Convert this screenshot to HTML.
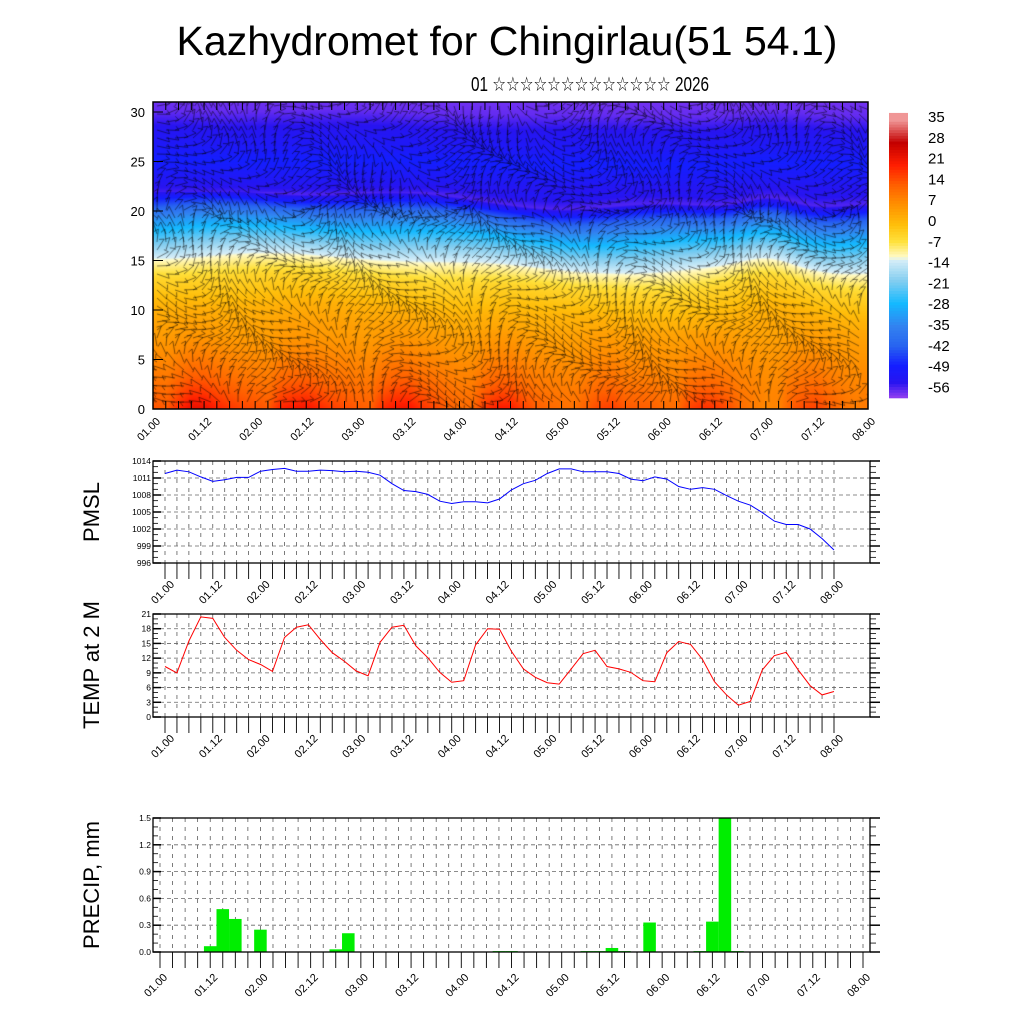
<!DOCTYPE html>
<html><head><meta charset="utf-8"><style>
html,body{margin:0;padding:0;background:#fff;}
#wrap{position:relative;width:1024px;height:1024px;overflow:hidden;}
svg{position:absolute;left:0;top:0;}
canvas{position:absolute;left:153px;top:102px;}
text{font-family:"Liberation Sans","DejaVu Sans",sans-serif;}
</style></head><body>
<div id="wrap">
<canvas id="field" width="715" height="307"></canvas>
<svg id="svg" width="1024" height="1024" xmlns="http://www.w3.org/2000/svg">
<text x="507" y="55" font-size="41" text-anchor="middle">Kazhydromet for Chingirlau(51 54.1)</text>
<text x="471" y="91" font-size="20" textLength="238" lengthAdjust="spacingAndGlyphs">01 ☆☆☆☆☆☆☆☆☆☆☆☆☆ 2026</text>
<text transform="translate(99,512) rotate(-90)" font-size="22" text-anchor="middle">PMSL</text>
<text transform="translate(99,665) rotate(-90)" font-size="22" text-anchor="middle">TEMP at 2 M</text>
<text transform="translate(99,885) rotate(-90)" font-size="22" text-anchor="middle">PRECIP, mm</text>
</svg>
</div>
<script>
const timeLabels=['01.00','01.12','02.00','02.12','03.00','03.12','04.00','04.12','05.00','05.12','06.00','06.12','07.00','07.12','08.00'];
const pmsl=[1011.8,1012.4,1012.1,1011.2,1010.4,1010.7,1011.1,1011.1,1012.2,1012.5,1012.7,1012.2,1012.2,1012.4,1012.3,1012.1,1012.2,1012.0,1011.5,1010.0,1008.8,1008.6,1008.1,1006.9,1006.5,1006.8,1006.8,1006.6,1007.3,1008.9,1010.0,1010.6,1011.8,1012.6,1012.6,1012.1,1012.1,1012.1,1011.8,1010.8,1010.5,1011.2,1010.8,1009.5,1009.0,1009.3,1009.0,1007.9,1006.9,1006.2,1004.9,1003.4,1002.8,1002.8,1002.0,1000.3,998.3];
const temp2m=[10.3,9.0,15.5,20.4,20.1,16.2,13.6,11.7,10.7,9.3,16.2,18.3,18.8,15.8,13.1,11.4,9.4,8.4,15.2,18.3,18.7,14.5,12.1,9.1,7.1,7.4,14.7,18.0,17.9,13.4,9.8,8.1,7.0,6.7,9.8,12.9,13.6,10.3,9.8,9.1,7.4,7.2,13.1,15.4,14.8,11.7,7.2,4.5,2.4,3.2,9.6,12.5,13.2,9.6,6.4,4.5,5.2];
const precip=[0,0,0,0,0.065,0.48,0.37,0,0.25,0,0,0,0,0,0.03,0.21,0,0,0,0,0,0,0,0,0,0,0,0.01,0.01,0,0,0,0,0,0.01,0.01,0.045,0.01,0,0.33,0,0,0,0.01,0.34,1.5,0.01,0,0,0,0,0,0,0,0,0,0];
const pmslTicks=[996,999,1002,1005,1008,1011,1014];
const tempTicks=[0,3,6,9,12,15,18,21];
const precipTicks=[0,0.3,0.6,0.9,1.2,1.5];
const heightTicks=[0,5,10,15,20,25,30];
const cbarLabels=[35,28,21,14,7,0,-7,-14,-21,-28,-35,-42,-49,-56];

const NS='http://www.w3.org/2000/svg';
const svgRoot=document.getElementById('svg');
function mk(tag,attrs,parent){const e=document.createElementNS(NS,tag);for(const k in attrs)e.setAttribute(k,attrs[k]);(parent||svgRoot).appendChild(e);return e;}

const cstops=[[-63,[140,60,240]],[-58,[40,20,240]],[-52,[20,30,255]],[-45,[40,100,240]],[-38,[50,130,240]],[-30,[20,185,255]],[-22,[130,205,240]],[-14.5,[215,238,248]],[-13.5,[255,250,200]],[-8,[255,225,60]],[-2,[255,190,10]],[5,[255,145,0]],[12,[255,95,0]],[19,[255,30,0]],[27,[195,0,0]],[35,[240,150,150]]];
function cmap(t){if(t<=cstops[0][0])return cstops[0][1];for(let i=1;i<cstops.length;i++){if(t<=cstops[i][0]){const a=cstops[i-1],b=cstops[i];const f=(t-a[0])/(b[0]-a[0]);return a[1].map((v,j)=>Math.round(v+(b[1][j]-v)*f));}}return cstops[cstops.length-1][1];}
const zst=[[0,14],[3,9],[6,5],[10,0],[13,-6],[14.6,-12],[15.2,-15],[17,-25],[19,-37],[20.5,-50],[21.5,-60],[23,-56],[25,-52],[26.5,-55],[28,-57],[30,-61],[32,-62]];
function baseT(z){for(let i=1;i<zst.length;i++){if(z<=zst[i][0]){const a=zst[i-1],b=zst[i];return a[1]+(b[1]-a[1])*(z-a[0])/(b[0]-a[0]);}}return -62;}
function tempAt(f){const p=f*56;const i=Math.min(55,Math.floor(p));const r=p-i;return temp2m[i]*(1-r)+temp2m[i+1]*r;}
function sstep(a,b,x){const t=Math.max(0,Math.min(1,(x-a)/(b-a)));return t*t*(3-2*t);}

(function(){
const cv=document.getElementById('field');const ctx=cv.getContext('2d');
const W=715,H=307;const img=ctx.createImageData(W,H);
for(let py=0;py<H;py++){for(let px=0;px<W;px++){
 const f=px/W;const z=(H-py)/9.9;
 const shift=0.5-1.5*sstep(0.25,0.6,f)+1.2*Math.exp(-Math.pow((f-0.86)/0.05,2))+0.3*Math.sin(f*20+z*0.3);
 let t=baseT(z-shift*(z>8&&z<22?1:0.3));
 t+=(tempAt(f)-11)*0.9*Math.exp(-z/3.5);
 const c=cmap(t);const k=(py*W+px)*4;img.data[k]=c[0];img.data[k+1]=c[1];img.data[k+2]=c[2];img.data[k+3]=255;}}
ctx.putImageData(img,0,0);
ctx.strokeStyle='rgba(0,0,0,0.62)';ctx.lineWidth=0.8;
for(let gy=4;gy<H;gy+=8){for(let gx=4;gx<W;gx+=9){
 const z=(H-gy)/9.9,f=gx/W;
 let a=Math.sin(f*25+z*0.4)*1.2+Math.cos(f*9-z*0.25)*0.8+(z>20?0.2:1.2);
 const L=13;const x2=gx+Math.cos(a)*L,y2=gy-Math.sin(a)*L;
 ctx.beginPath();ctx.moveTo(gx,gy);ctx.lineTo(x2,y2);
 ctx.lineTo(x2+Math.cos(a+2.2)*5,y2-Math.sin(a+2.2)*5);ctx.stroke();}}
})();

const topG=mk('g',{});


const fr=mk('rect',{x:153,y:102,width:715,height:307,fill:'none',stroke:'#000','stroke-width':1.5},topG);


function hy(v){return 409-v*9.9;}
heightTicks.forEach(v=>{const y=hy(v);
 mk('line',{x1:153,x2:163,y1:y,y2:y,stroke:'#000'},topG);
 const t=mk('text',{x:145,y:y+5,'font-size':13,'text-anchor':'end'},topG);t.textContent=v;
 
 });
for(let i=0;i<=56;i++){const x=153+i*715/56;mk('line',{x1:x,x2:x,y1:409,y2:401,stroke:'#000'},topG);mk('line',{x1:x,x2:x,y1:102,y2:110,stroke:'#000'},topG);}
timeLabels.forEach((l,j)=>{const x=153+j*4*715/56;const t=mk('text',{transform:`translate(${x+8},${422}) rotate(-45)`,'font-size':11,'text-anchor':'end'},topG);t.textContent=l;
 
 });

const cb=mk('g',{});


for(let v=-63;v<38;v+=1){const y=398-(v+63)*(285/101);mk('rect',{x:889,y:y-2.9,width:19,height:3.2,fill:`rgb(${cmap(v).join(',')})`},cb);}
cbarLabels.forEach(v=>{const yy=116+(35-v)/7*20.8;const t=mk('text',{x:928,y:yy+6,'font-size':15},cb);t.textContent=v;
 
 });

function panel(o){
 const g=mk('g',{});
 
 
 const x0=153,x1=870;const N=57;
 const xs=i=>o.tx0+i*(o.tx1-o.tx0)/(N-1);
 const ys=v=>o.y1-(v-o.ymin)/(o.ymax-o.ymin)*(o.y1-o.y0);
 for(let i=0;i<N;i++){mk('line',{x1:xs(i),x2:xs(i),y1:o.y0,y2:o.y1,stroke:'#444','stroke-width':0.7,'stroke-dasharray':'4,5'},g);
  mk('line',{x1:xs(i),x2:xs(i),y1:o.y1,y2:o.y1+16,stroke:'#000','stroke-width':0.9},g);}
 const step=(o.ticks[1]-o.ticks[0]);
 o.ticks.forEach((v,k)=>{const y=ys(v);
  if(k>0&&k<o.ticks.length-1)mk('line',{x1:x0,x2:x1,y1:y,y2:y,stroke:'#666','stroke-width':0.8,'stroke-dasharray':'4,3'},g);
  mk('line',{x1:x0,x2:x0+8,y1:y,y2:y,stroke:'#000','stroke-width':1.5},g);
  mk('line',{x1:x1,x2:x1+10,y1:y,y2:y,stroke:'#000','stroke-width':1.5},g);
  const t=mk('text',{x:x0-2,y:y+3,'font-size':8.5,'text-anchor':'end'},g);t.textContent=o.fmt(v);
  
  
  if(k<o.ticks.length-1){for(let m=1;m<3;m++){const yy=ys(v+step*m/3);mk('line',{x1:x0,x2:x0+5,y1:yy,y2:yy,stroke:'#000','stroke-width':0.8},g);mk('line',{x1:x1,x2:x1+6,y1:yy,y2:yy,stroke:'#000','stroke-width':0.8},g);}}});
 o.draw(g,xs,ys);
 const f=mk('rect',{x:x0,y:o.y0,width:x1-x0,height:o.y1-o.y0,fill:'none',stroke:'#000','stroke-width':1.3},g);
 
 
 timeLabels.forEach((l,j)=>{const x=xs(j*4);const t=mk('text',{transform:`translate(${x+o.lx},${o.y1+o.ly}) rotate(-45)`,'font-size':11,'text-anchor':'end'},g);t.textContent=l;
  
  });
}
function linePath(arr,xs,ys){return arr.map((v,i)=>(i?'L':'M')+xs(i).toFixed(1)+','+ys(v).toFixed(1)).join('');}
panel({name:'pmsl-panel',y0:461,y1:563,ymin:996,ymax:1014,ticks:pmslTicks,tx0:165,tx1:834,lx:10,ly:22,fmt:v=>String(v),
 draw:(g,xs,ys)=>{const p=mk('path',{d:linePath(pmsl,xs,ys),fill:'none',stroke:'#0000ff','stroke-width':1},g);
  
  }});
panel({name:'temp-panel',y0:614,y1:717,ymin:0,ymax:21,ticks:tempTicks,tx0:165,tx1:834,lx:10,ly:22,fmt:v=>String(v),
 draw:(g,xs,ys)=>{const p=mk('path',{d:linePath(temp2m,xs,ys),fill:'none',stroke:'#ff0000','stroke-width':1},g);
  
  }});
panel({name:'precip-panel',y0:818,y1:952,ymin:0,ymax:1.5,ticks:precipTicks,tx0:160,tx1:863,lx:8,ly:26,fmt:v=>v.toFixed(1),
 draw:(g,xs,ys)=>{const w=(863-160)/56;precip.forEach((v,i)=>{if(v<=0)return;const r=mk('rect',{x:xs(i)-w/2,y:ys(v),width:w,height:ys(0)-ys(v),fill:'#00ee00'},g);
  
  });}});
</script>
</body></html>
